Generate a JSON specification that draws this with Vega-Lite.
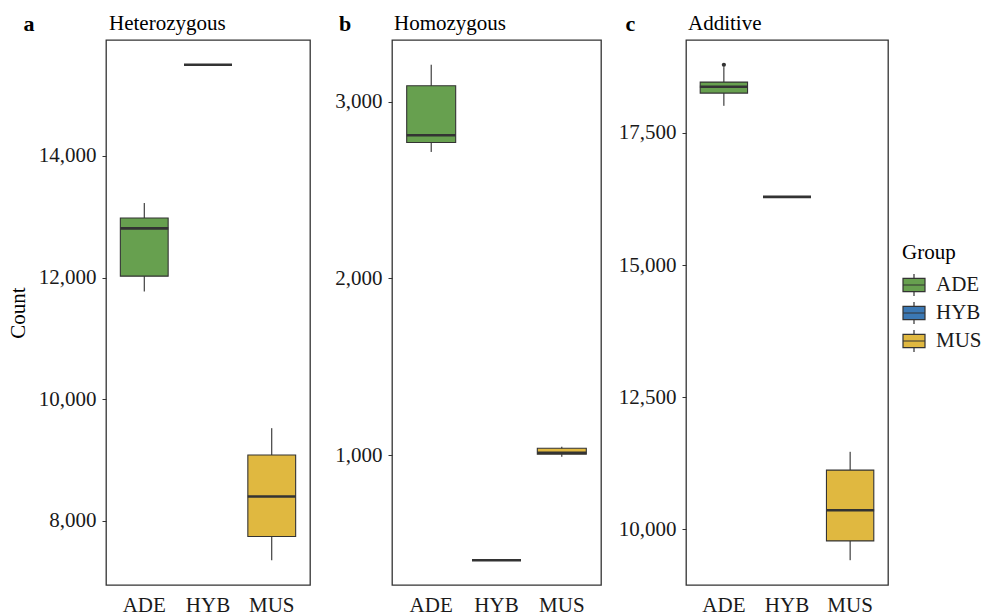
{
  "$schema": "https://vega.github.io/schema/vega-lite/v6.json",
  "background": "white",
  "padding": {"left": 6, "top": 12, "right": 0, "bottom": 0},
  "datasets": {
    "stats": [
      {"panel": "a", "group": "ADE", "lower": 11771, "q1": 12023, "median": 12809, "q3": 12979, "upper": 13226, "outlier": null},
      {"panel": "a", "group": "HYB", "lower": 15500, "q1": 15500, "median": 15500, "q3": 15500, "upper": 15500, "outlier": null},
      {"panel": "a", "group": "MUS", "lower": 7351, "q1": 7742, "median": 8400, "q3": 9083, "upper": 9523, "outlier": null},
      {"panel": "b", "group": "ADE", "lower": 2716, "q1": 2770, "median": 2811, "q3": 3091, "upper": 3210, "outlier": null},
      {"panel": "b", "group": "HYB", "lower": 404, "q1": 404, "median": 404, "q3": 404, "upper": 404, "outlier": null},
      {"panel": "b", "group": "MUS", "lower": 990, "q1": 1004, "median": 1013, "q3": 1038, "upper": 1047, "outlier": null},
      {"panel": "c", "group": "ADE", "lower": 18013, "q1": 18254, "median": 18373, "q3": 18462, "upper": 18745, "outlier": 18789},
      {"panel": "c", "group": "HYB", "lower": 16291, "q1": 16291, "median": 16291, "q3": 16291, "upper": 16291, "outlier": null},
      {"panel": "c", "group": "MUS", "lower": 9419, "q1": 9784, "median": 10365, "q3": 11123, "upper": 11469, "outlier": null}
    ]
  },
  "data": {"name": "stats"},
  "spacing": 23,
  "resolve": {"scale": {"y": "independent", "x": "independent"}},
  "hconcat": [
    {
      "title": {"text": "a", "fontWeight": "bold", "fontSize": 22, "anchor": "start", "frame": "bounds", "offset": -24, "dx": 17},
      "vconcat": [
        {
          "title": {"text": "Heterozygous", "offset": 8, "dx": 3, "dy": 2},
          "width": 204,
          "height": 545,
          "transform": [{"filter": "datum.panel === 'a'"}],
          "layer": [
            {
              "mark": {"type": "rule", "color": "#1a1a1a", "strokeWidth": 1},
              "encoding": {
                "x": {"field": "group", "type": "nominal", "scale": {"domain": ["ADE", "HYB", "MUS"], "paddingInner": 0.25, "paddingOuter": 0.225}, "title": null},
                "y": {"field": "lower", "type": "quantitative", "title": "Count", "scale": {"domain": [6944, 15907], "nice": false, "zero": false}, "axis": {"values": [8000, 10000, 12000, 14000], "format": ",.0f"}},
                "y2": {"field": "upper"}
              }
            },
            {
              "mark": {"type": "bar", "stroke": "#333333", "strokeWidth": 1.1, "opacity": 1},
              "encoding": {
                "x": {"field": "group", "type": "nominal", "title": null},
                "y": {"field": "q1", "type": "quantitative", "title": "Count"},
                "y2": {"field": "q3"},
                "color": {"field": "group", "type": "nominal", "scale": {"domain": ["ADE", "HYB", "MUS"], "range": ["#67A04F", "#3B78B4", "#E0B840"]}, "legend": {"title": "Group", "orient": "none", "legendX": 796, "legendY": 202}}
              }
            },
            {
              "mark": {"type": "tick", "color": "#333333", "thickness": 2.6, "size": 48, "opacity": 1},
              "encoding": {
                "x": {"field": "group", "type": "nominal", "title": null},
                "y": {"field": "median", "type": "quantitative", "title": "Count"}
              }
            }
          ]
        }
      ]
    },
    {
      "spacing": 15,
      "resolve": {"scale": {"y": "independent", "x": "independent"}},
      "hconcat": [
        {
          "title": {"text": "b", "fontWeight": "bold", "fontSize": 22, "anchor": "start", "frame": "bounds", "offset": -24, "dx": 5},
          "vconcat": [
            {
              "title": {"text": "Homozygous", "offset": 8, "dx": 2, "dy": 2},
              "width": 209,
              "height": 545,
              "transform": [{"filter": "datum.panel === 'b'"}],
              "layer": [
                {
                  "mark": {"type": "rule", "color": "#1a1a1a", "strokeWidth": 1},
                  "encoding": {
                    "x": {"field": "group", "type": "nominal", "scale": {"domain": ["ADE", "HYB", "MUS"], "paddingInner": 0.25, "paddingOuter": 0.225}, "title": null},
                    "y": {"field": "lower", "type": "quantitative", "title": null, "scale": {"domain": [264, 3350], "nice": false, "zero": false}, "axis": {"values": [1000, 2000, 3000], "format": ",.0f"}},
                    "y2": {"field": "upper"}
                  }
                },
                {
                  "mark": {"type": "bar", "stroke": "#333333", "strokeWidth": 1.1, "opacity": 1},
                  "encoding": {
                    "x": {"field": "group", "type": "nominal", "title": null},
                    "y": {"field": "q1", "type": "quantitative", "title": null},
                    "y2": {"field": "q3"},
                    "color": {"field": "group", "type": "nominal"}
                  }
                },
                {
                  "mark": {"type": "tick", "color": "#333333", "thickness": 2.6, "size": 49, "opacity": 1},
                  "encoding": {
                    "x": {"field": "group", "type": "nominal", "title": null},
                    "y": {"field": "median", "type": "quantitative", "title": null}
                  }
                }
              ]
            }
          ]
        },
        {
          "title": {"text": "c", "fontWeight": "bold", "fontSize": 22, "anchor": "start", "frame": "bounds", "offset": -24, "dx": 8},
          "vconcat": [
            {
              "title": {"text": "Additive", "offset": 8, "dx": 2, "dy": 2},
              "width": 202,
              "height": 545,
              "transform": [{"filter": "datum.panel === 'c'"}],
              "layer": [
                {
                  "mark": {"type": "rule", "color": "#1a1a1a", "strokeWidth": 1},
                  "encoding": {
                    "x": {"field": "group", "type": "nominal", "scale": {"domain": ["ADE", "HYB", "MUS"], "paddingInner": 0.25, "paddingOuter": 0.225}, "title": null},
                    "y": {"field": "lower", "type": "quantitative", "title": null, "scale": {"domain": [8950, 19258], "nice": false, "zero": false}, "axis": {"values": [10000, 12500, 15000, 17500], "format": ",.0f"}},
                    "y2": {"field": "upper"}
                  }
                },
                {
                  "mark": {"type": "bar", "stroke": "#333333", "strokeWidth": 1.1, "opacity": 1},
                  "encoding": {
                    "x": {"field": "group", "type": "nominal", "title": null},
                    "y": {"field": "q1", "type": "quantitative", "title": null},
                    "y2": {"field": "q3"},
                    "color": {"field": "group", "type": "nominal"}
                  }
                },
                {
                  "mark": {"type": "tick", "color": "#333333", "thickness": 2.6, "size": 48, "opacity": 1},
                  "encoding": {
                    "x": {"field": "group", "type": "nominal", "title": null},
                    "y": {"field": "median", "type": "quantitative", "title": null}
                  }
                },
                {
                  "mark": {"type": "point", "filled": true, "color": "#333333", "size": 18, "opacity": 1},
                  "encoding": {
                    "x": {"field": "group", "type": "nominal", "title": null},
                    "y": {"field": "outlier", "type": "quantitative", "title": null}
                  }
                }
              ]
            }
          ]
        }
      ]
    }
  ],
  "config": {
    "font": "Liberation Serif",
    "view": {"stroke": "#333333", "strokeWidth": 1.3},
    "axis": {
      "labelFont": "Liberation Serif",
      "labelFontSize": 21,
      "labelColor": "#1a1a1a",
      "titleFont": "Liberation Serif",
      "titleFontSize": 21,
      "titleFontWeight": "normal",
      "titleColor": "#000000",
      "grid": false,
      "domain": false,
      "tickColor": "#333333",
      "tickSize": 4,
      "labelPadding": 6
    },
    "axisX": {"ticks": false, "labelPadding": 9, "labelAngle": 0},
    "axisY": {"titlePadding": 10},
    "title": {"font": "Liberation Serif", "fontSize": 21, "fontWeight": "normal", "anchor": "start", "color": "#000000", "frame": "group"},
    "legend": {
      "titleFont": "Liberation Serif",
      "titleFontSize": 21,
      "titleFontWeight": "normal",
      "titleColor": "#000000",
      "titlePadding": 10,
      "labelFont": "Liberation Serif",
      "labelFontSize": 21,
      "labelColor": "#1a1a1a",
      "labelOffset": 10,
      "symbolType": "M-1,-0.6H1V0.6H-1Z M-1,0H1 M0,-0.6V-1 M0,0.6V1",
      "symbolSize": 484,
      "symbolStrokeColor": "#333333",
      "symbolStrokeWidth": 1.2,
      "symbolOpacity": 1,
      "rowPadding": 0
    }
  }
}
